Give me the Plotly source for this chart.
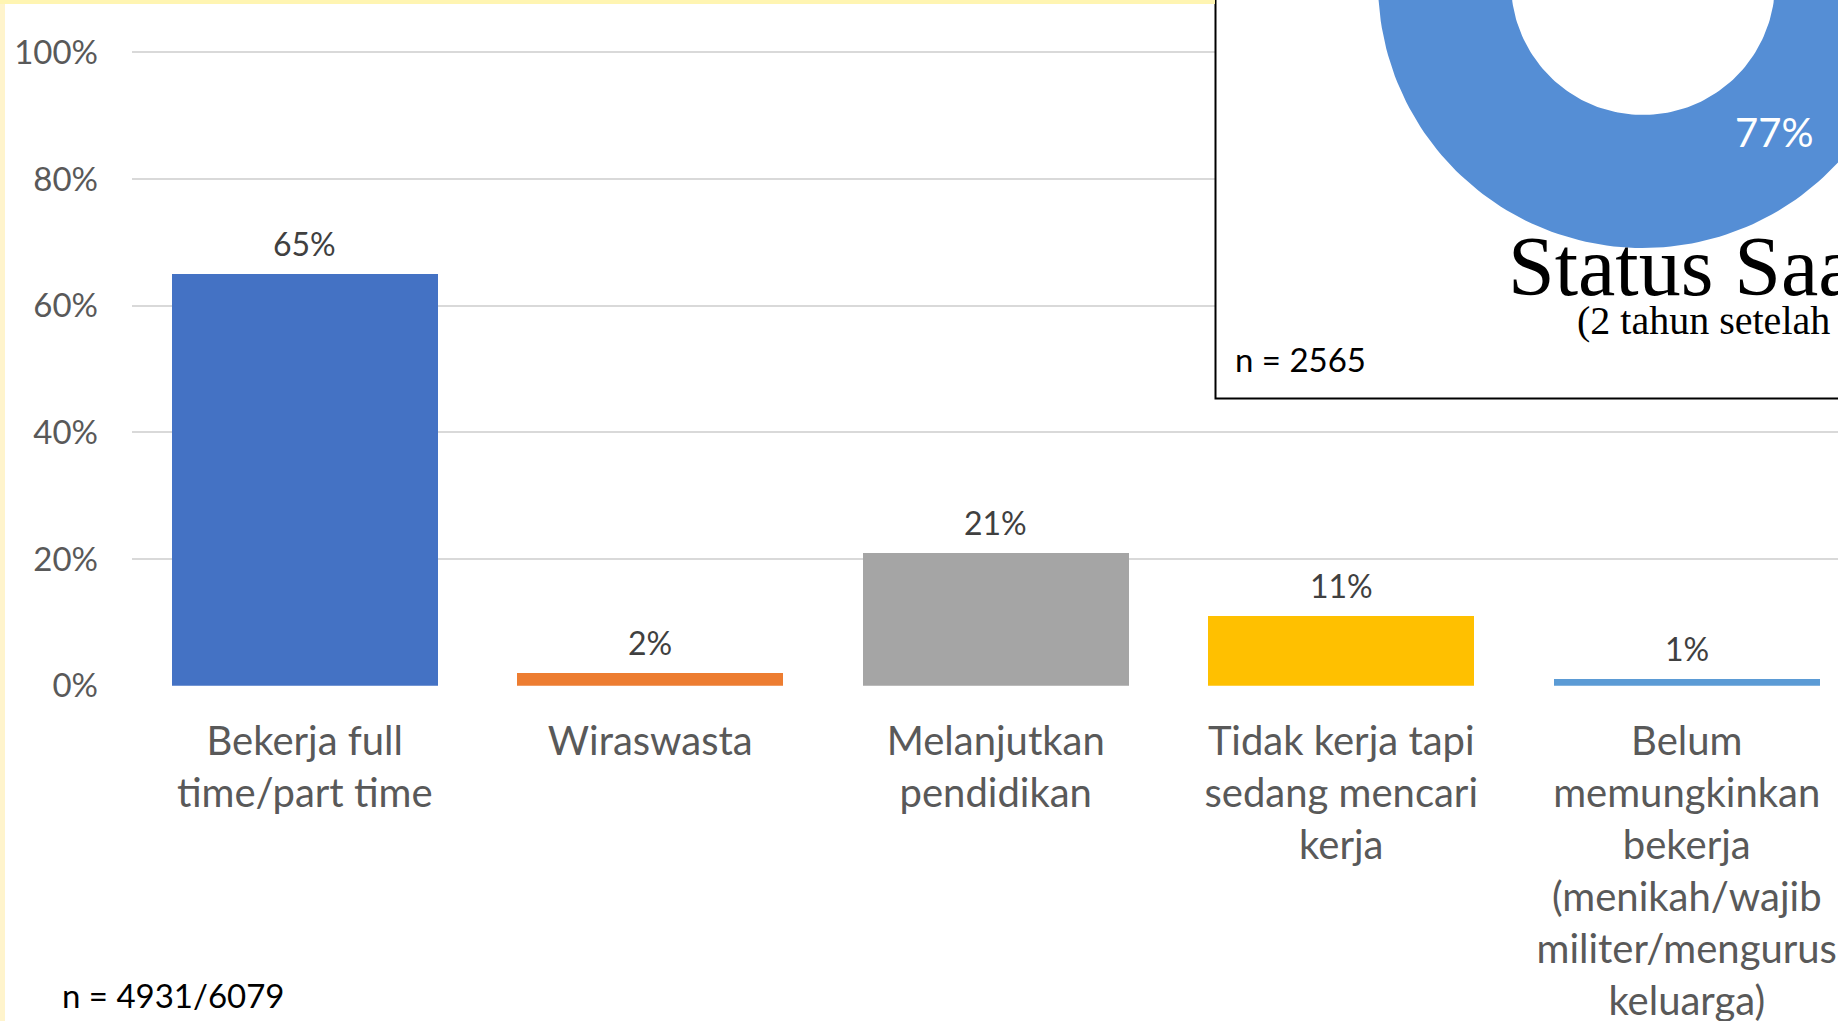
import math
import plotly.graph_objects as go

# Bar chart: current activity of graduates
categories = [
    "Bekerja full<br>time/part time",
    "Wiraswasta",
    "Melanjutkan<br>pendidikan",
    "Tidak kerja tapi<br>sedang mencari<br>kerja",
    "Belum<br>memungkinkan<br>bekerja<br>(menikah/wajib<br>militer/mengurus<br>keluarga)",
]
shares = [65, 2, 21, 11, 1]
bar_colors = ["#4472C4", "#ED7D31", "#A5A5A5", "#FFC000", "#5B9BD5"]
y_ticks = [0, 20, 40, 60, 80, 100]
y_tick_labels = [f"{t}%" for t in y_ticks]
sample_note = "n = 4931/6079"

# Inset doughnut: status two years after graduating
donut_labels = ["Bekerja", "Lainnya"]
donut_values = [77, 23]
donut_colors = ["#558ED5", "#ED7D31"]
donut_title = "Status Saat Ini"
donut_subtitle = "(2 tahun setelah lulus)"
donut_note = "n = 2565"

W, H = 1838, 1021
FONT = "Lato"

fig = go.Figure()

fig.add_trace(go.Bar(
    x=categories, y=shares, marker=dict(color=bar_colors, line=dict(width=0)),
    width=0.77, xaxis="x", yaxis="y", showlegend=False, hoverinfo="skip",
))

annotations = []
for c, v in zip(categories, shares):
    annotations.append(dict(
        x=c, y=v, xref="x", yref="y", text=f"{v}%", showarrow=False,
        yanchor="bottom", yshift=9,
        font=dict(family=FONT, size=32, color="#404040"),
    ))

# Inset panel (pixel-like coordinates on an overlay axis pair)
px_left, px_bottom = 1205, 406
cx, cy, r_out, r_in = 1643, -17, 265, 132

total = sum(donut_values)
start = 0.0
for lab, val, col in zip(donut_labels, donut_values, donut_colors):
    a0 = start
    a1 = start + 360.0 * val / total
    n = 180
    angs = [a0 + (a1 - a0) * i / n for i in range(n + 1)]
    xs = [cx + r_out * math.sin(math.radians(a)) for a in angs]
    ys = [cy - r_out * math.cos(math.radians(a)) for a in angs]
    xs += [cx + r_in * math.sin(math.radians(a)) for a in reversed(angs)]
    ys += [cy - r_in * math.cos(math.radians(a)) for a in reversed(angs)]
    fig.add_trace(go.Scatter(
        x=xs, y=ys, mode="lines", fill="toself", fillcolor=col,
        line=dict(width=0, color=col), xaxis="x2", yaxis="y2",
        showlegend=False, hoverinfo="skip", name=lab,
    ))
    mid = math.radians((a0 + a1) / 2)
    rm = (r_out + r_in) / 2
    annotations.append(dict(
        x=cx + rm * math.sin(mid), y=cy - rm * math.cos(mid), xref="x2", yref="y2",
        text=f"{val}%", showarrow=False,
        font=dict(family=FONT, size=40, color="white"),
    ))
    start = a1

annotations += [
    dict(x=1506, y=292, xref="x2", yref="y2", text=donut_title, showarrow=False,
         xanchor="left", yanchor="bottom", yshift=-23,
         font=dict(family="Liberation Serif", size=84, color="black")),
    dict(x=1575, y=332, xref="x2", yref="y2", text=donut_subtitle, showarrow=False,
         xanchor="left", yanchor="bottom", yshift=-13,
         font=dict(family="Liberation Serif", size=40, color="black")),
    dict(x=1233, y=359, xref="x2", yref="y2", text=donut_note, showarrow=False,
         xanchor="left", yanchor="middle",
         font=dict(family=FONT, size=33, color="black")),
    dict(x=60 / W, y=1 - 995 / H, xref="paper", yref="paper", text=sample_note,
         showarrow=False, xanchor="left", yanchor="middle",
         font=dict(family=FONT, size=33, color="black")),
]

shapes = [
    # inset frame
    dict(type="rect", xref="x2", yref="y2", x0=1215.5, y0=398.5, x1=1900, y1=-50,
         line=dict(color="black", width=2), fillcolor="white", layer="below"),
    # pale yellow slide edges
    dict(type="rect", xref="paper", yref="paper", x0=0, x1=5 / W, y0=0, y1=1,
         line=dict(width=0), fillcolor="#FFF4CC", layer="above"),
    dict(type="rect", xref="paper", yref="paper", x0=0, x1=1215 / W, y0=1 - 4 / H, y1=1,
         line=dict(width=0), fillcolor="#FFF5B2", layer="above"),
]

plot_left = 132
x_span = 345.5
y0_px, y100_px = 685.8, 52.3
y_top = 100.5
px_per_unit = (y0_px - y100_px) / 100
ytop_px = y0_px - y_top * px_per_unit

fig.update_layout(
    width=W, height=H, margin=dict(l=0, r=0, t=0, b=0),
    paper_bgcolor="white", plot_bgcolor="rgba(0,0,0,0)",
    template="none", bargap=0,
    xaxis=dict(
        domain=[plot_left / W, 1], type="category",
        range=[-0.5, -0.5 + (W - plot_left) / x_span],
        showgrid=False, zeroline=False, showline=False, ticks="",
        tickfont=dict(family=FONT, size=40, color="#595959"),
        ticklabelstandoff=28, fixedrange=True,
    ),
    yaxis=dict(
        domain=[1 - y0_px / H, 1 - ytop_px / H], range=[0, y_top],
        tickmode="array", tickvals=y_ticks, ticktext=y_tick_labels,
        showgrid=True, gridcolor="#D9D9D9", gridwidth=1.5,
        zeroline=False, showline=False, ticks="",
        tickfont=dict(family=FONT, size=33, color="#595959"),
        ticklabelstandoff=33, fixedrange=True,
    ),
    xaxis2=dict(domain=[px_left / W, 1], range=[px_left, W], anchor="y2",
                visible=False, fixedrange=True),
    yaxis2=dict(domain=[1 - px_bottom / H, 1], range=[px_bottom, 0], anchor="x2",
                visible=False, fixedrange=True),
    annotations=annotations, shapes=shapes,
)

fig.write_html("out.html")
